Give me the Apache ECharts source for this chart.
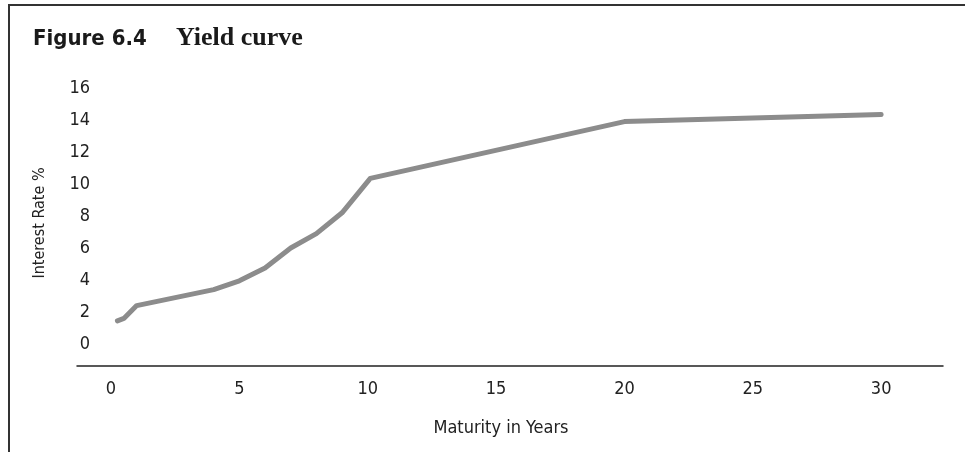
<!DOCTYPE html>
<html>
<head>
<meta charset="utf-8">
<script src="https://cdn.jsdelivr.net/npm/echarts@6/dist/echarts.min.js"></script>
<style>
html,body{margin:0;padding:0;background:#fff;}
#c{width:965px;height:452px;}
</style>
</head>
<body>
<div id="c"></div>
<script>
// Data
const maturities = [0.25, 0.5, 1, 4, 5, 6, 7, 8, 9, 10.1, 20, 30];
const rates      = [1.45, 1.6, 2.4, 3.4, 3.95, 4.75, 6.0, 6.9, 8.2, 10.35, 13.9, 14.35];
const xTicks = [0, 5, 10, 15, 20, 25, 30];
const yTicks = [0, 2, 4, 6, 8, 10, 12, 14, 16];

const narrow = "'Liberation Sans Narrow', 'DejaVu Sans Condensed', 'Liberation Sans', sans-serif";

const chart = echarts.init(document.getElementById('c'), null, {renderer: 'canvas'});
chart.setOption({
  animation: false,
  backgroundColor: '#fff',
  title: [
    {text: 'Figure 6.4', left: 28, top: 23,
     textStyle: {fontFamily: narrow, fontWeight: 'bold', fontSize: 22, color: '#1a1a1a'}},
    {text: 'Yield curve', left: 171, top: 20,
     textStyle: {fontFamily: "'Liberation Serif', 'DejaVu Serif', serif", fontWeight: 'bold', fontSize: 26, color: '#1a1a1a'}}
  ],
  graphic: [
    {type: 'polyline', silent: true,
     shape: {points: [[9, 452], [9, 5], [965, 5]]},
     style: {stroke: '#333', lineWidth: 2, fill: null}}
  ],
  grid: {left: 77, right: 22, top: 80, bottom: 86, containLabel: false},
  xAxis: {
    type: 'value', min: -1.325, max: 32.41,
    name: 'Maturity in Years', nameLocation: 'middle', nameGap: 53,
    nameTextStyle: {fontFamily: narrow, fontSize: 18, color: '#222', padding: [0, 18, 0, 0]},
    axisLine: {show: true, onZero: false, lineStyle: {color: '#222', width: 1.5}},
    axisTick: {show: false},
    splitLine: {show: false},
    axisLabel: {customValues: xTicks, margin: 14, fontFamily: narrow, fontSize: 18, color: '#222'}
  },
  yAxis: {
    type: 'value', min: -1.375, max: 16.5,
    name: 'Interest Rate %', nameLocation: 'middle', nameGap: 29, nameRotate: 90,
    nameTextStyle: {fontFamily: narrow, fontSize: 16, color: '#222'},
    axisLine: {show: false, onZero: false},
    axisTick: {show: false},
    splitLine: {show: false},
    axisLabel: {customValues: yTicks, margin: -13, fontFamily: narrow, fontSize: 18, color: '#222'}
  },
  series: [{
    type: 'line',
    data: maturities.map((m, i) => [m, rates[i]]),
    symbol: 'none',
    lineStyle: {color: '#8c8c8c', width: 5, cap: 'round', join: 'round'}
  }]
});
</script>
</body>
</html>
